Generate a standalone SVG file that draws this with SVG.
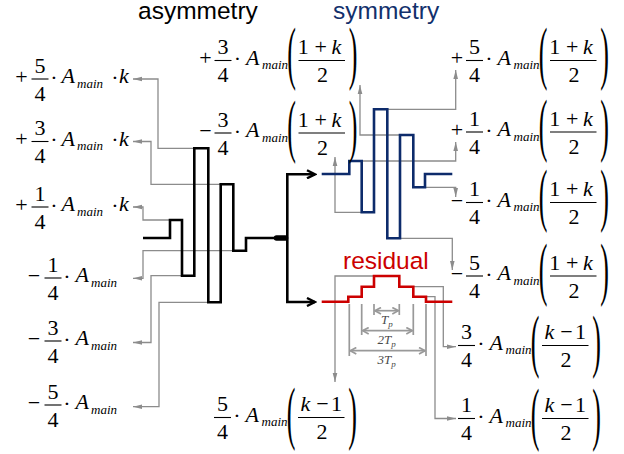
<svg xmlns="http://www.w3.org/2000/svg" width="624" height="454" viewBox="0 0 624 454">
<defs>
<marker id="ga" viewBox="0 0 9 6" refX="9" refY="3" markerWidth="9" markerHeight="6" markerUnits="userSpaceOnUse" orient="auto"><path d="M0,0.7 L9,3 L0,5.3 z" fill="#8c8c8c"/></marker>
<marker id="ba" viewBox="0 0 12 10" refX="10" refY="5" markerWidth="12" markerHeight="10" markerUnits="userSpaceOnUse" orient="auto"><path d="M2,1 L10,5 L2,9" fill="none" stroke="#000" stroke-width="2.4"/></marker>
<marker id="da" viewBox="0 0 8 8" refX="7" refY="4" markerWidth="8" markerHeight="8" markerUnits="userSpaceOnUse" orient="auto-start-reverse"><path d="M1,0.8 L7,4 L1,7.2" fill="none" stroke="#999" stroke-width="1.7"/></marker>
<style>
.c{fill:none;stroke:#8c8c8c;stroke-width:1.3;marker-end:url(#ga)}
.w{fill:none;stroke-width:2.6}
.m,.i,.s,.p,.dl{font-family:"Liberation Serif","Times New Roman",serif}
.m{font-size:22px;fill:#000}
.i{font-size:22px;font-style:italic;fill:#000}
.s{font-size:13px;font-style:italic;fill:#000}
.p{font-size:26px;fill:#000}
.ml{text-anchor:middle}
.fb{stroke:#000;stroke-width:1.1}
.t{font-family:"Liberation Sans",Arial,sans-serif;font-size:24.5px}
.dim{fill:none;stroke:#999;stroke-width:1.7}
.dl{font-style:italic;font-size:13px;fill:#4a4a4a}
</style>
</defs>
<rect width="624" height="454" fill="#fff"/>

<g id="titles">
<text class="t" x="138" y="18.5" fill="#000">asymmetry</text>
<text class="t" x="333" y="18.5" fill="#12306c">symmetry</text>
<text class="t" x="343" y="269" fill="#cc0000">residual</text>
</g>

<g id="connectors">
<path class="c" d="M194.3,148.3 H158 V79 H133"/>
<path class="c" d="M220.7,184.3 H151 V141.5 H133"/>
<path class="c" d="M170,220 H143 V207 H133"/>
<path class="c" d="M246,250.7 H143 V278.3 H133"/>
<path class="c" d="M182,275.7 H151 V342.5 H133"/>
<path class="c" d="M208.3,302.3 H159 V406.7 H133"/>
<path class="c" d="M400,135 H360 V85"/>
<path class="c" d="M387.3,109.3 H455.7 V70"/>
<path class="c" d="M361.7,161 H455.7 V142"/>
<path class="c" d="M413.3,187.3 H455.7 V197"/>
<path class="c" d="M400,238.3 H452.3 V270"/>
<path class="c" d="M361.7,212.3 H335 V157"/>
<path class="c" d="M374,276 H335 V382"/>
<path class="c" d="M413.3,286.7 H443.3 V346.7 H456"/>
<path class="c" d="M426,296.7 H435 V418.5 H456"/>
<path class="w" stroke="#000" d="M287.3,238 V174.3 H315" marker-end="url(#ba)"/>
<path class="w" stroke="#000" d="M287.3,238 V302 H315" marker-end="url(#ba)"/>
</g>

<g id="wave-asym">
<path class="w" stroke="#000" d="M143,238 H170 V220 H182 V275.7 H194.3 V148.3 H208.3 V302.3 H220.7 V184.3 H233.3 V250.7 H246 V238 H276"/>
<line x1="276.5" y1="238" x2="285.5" y2="238" stroke="#000" stroke-width="5.5" stroke-linecap="round"/>
</g>

<g id="wave-sym">
<path class="w" stroke="#0d2b6b" d="M321.7,174 H349.3 V161 H361.7 V212.3 H374 V109.3 H387.3 V238.3 H400 V135 H413.3 V187.3 H425 V174 H452.3"/>
</g>

<g id="wave-res">
<path class="w" stroke="#cc0000" d="M321.7,301.7 H348.3 V296.7 H361.7 V286.7 H374 V276 H399.3 V286.7 H413.3 V296.7 H426 V301.7 H452.3"/>
</g>

<g id="dimensions">
<path class="dim" d="M374,304 V315 M399.3,304 V315 M361.7,304 V335 M413.3,304 V335 M349.3,304 V356 M426,304 V356"/>
<line class="dim" x1="375" y1="310.7" x2="398.3" y2="310.7" marker-start="url(#da)" marker-end="url(#da)"/>
<line class="dim" x1="362.7" y1="330.7" x2="412.3" y2="330.7" marker-start="url(#da)" marker-end="url(#da)"/>
<line class="dim" x1="350.3" y1="350.7" x2="425" y2="350.7" marker-start="url(#da)" marker-end="url(#da)"/>
<text class="dl" x="381" y="323.5">T<tspan font-size="9" dy="3">p</tspan></text>
<text class="dl" x="377.5" y="343.5">2T<tspan font-size="9" dy="3">p</tspan></text>
<text class="dl" x="377.5" y="364">3T<tspan font-size="9" dy="3">p</tspan></text>
</g>

<!-- left column -->
<g id="lbl-a1">
<text class="m ml" x="21.5" y="83.5">+</text>
<text class="m ml" x="40" y="72.5">5</text>
<line class="fb" x1="31.5" y1="79" x2="48.5" y2="79"/>
<text class="m ml" x="40" y="100.5">4</text>
<text class="m ml" x="54" y="84.5">·</text>
<text class="i" x="61.5" y="83">A</text>
<text class="s" x="77" y="87.5">main</text>
<text class="m ml" x="115" y="84.5">·</text>
<text class="i" x="119" y="83">k</text>
</g>
<g id="lbl-a2">
<text class="m ml" x="21.5" y="146">+</text>
<text class="m ml" x="40" y="135">3</text>
<line class="fb" x1="31.5" y1="141.5" x2="48.5" y2="141.5"/>
<text class="m ml" x="40" y="163">4</text>
<text class="m ml" x="54" y="147">·</text>
<text class="i" x="61.5" y="145.5">A</text>
<text class="s" x="77" y="150">main</text>
<text class="m ml" x="115" y="147">·</text>
<text class="i" x="119" y="145.5">k</text>
</g>
<g id="lbl-a3">
<text class="m ml" x="21.5" y="211.5">+</text>
<text class="m ml" x="40" y="200.5">1</text>
<line class="fb" x1="31.5" y1="207" x2="48.5" y2="207"/>
<text class="m ml" x="40" y="228.5">4</text>
<text class="m ml" x="54" y="212.5">·</text>
<text class="i" x="61.5" y="211">A</text>
<text class="s" x="77" y="215.5">main</text>
<text class="m ml" x="115" y="212.5">·</text>
<text class="i" x="119" y="211">k</text>
</g>
<g id="lbl-a4">
<text class="m ml" x="34" y="283">−</text>
<text class="m ml" x="53" y="271.5">1</text>
<line class="fb" x1="44.5" y1="278" x2="61.5" y2="278"/>
<text class="m ml" x="53" y="299.5">4</text>
<text class="m ml" x="67" y="283.5">·</text>
<text class="i" x="75.5" y="282">A</text>
<text class="s" x="91" y="286.5">main</text>
</g>
<g id="lbl-a5">
<text class="m ml" x="34" y="346">−</text>
<text class="m ml" x="53" y="334.5">3</text>
<line class="fb" x1="44.5" y1="341" x2="61.5" y2="341"/>
<text class="m ml" x="53" y="362.5">4</text>
<text class="m ml" x="67" y="346.5">·</text>
<text class="i" x="75.5" y="345">A</text>
<text class="s" x="91" y="349.5">main</text>
</g>
<g id="lbl-a6">
<text class="m ml" x="34" y="410">−</text>
<text class="m ml" x="53" y="398.5">5</text>
<line class="fb" x1="44.5" y1="405" x2="61.5" y2="405"/>
<text class="m ml" x="53" y="426.5">4</text>
<text class="m ml" x="67" y="410.5">·</text>
<text class="i" x="75.5" y="409">A</text>
<text class="s" x="91" y="413.5">main</text>
</g>

<!-- middle top -->
<g id="lbl-s1">
<text class="m ml" x="205.5" y="65">+</text>
<text class="m ml" x="223" y="54">3</text>
<line class="fb" x1="214.5" y1="60.5" x2="231.5" y2="60.5"/>
<text class="m ml" x="223" y="82">4</text>
<text class="m ml" x="237.5" y="66">·</text>
<text class="i" x="246" y="64.5">A</text>
<text class="s" x="262" y="69">main</text>
<text class="p" transform="translate(287.3,76) scale(1,2.705)">(</text>
<line class="fb" x1="298.5" y1="60.5" x2="345" y2="60.5"/>
<text class="m" x="297.8" y="54">1</text>
<text class="m ml" x="320.8" y="54">+</text>
<text class="i" x="331.5" y="54">k</text>
<text class="m ml" x="322.5" y="82">2</text>
<text class="p" transform="translate(348.7,76) scale(1,2.705)">)</text>
</g>
<g id="lbl-s2">
<text class="m ml" x="205.5" y="138">−</text>
<text class="m ml" x="223" y="126.5">3</text>
<line class="fb" x1="214.5" y1="133" x2="231.5" y2="133"/>
<text class="m ml" x="223" y="154.5">4</text>
<text class="m ml" x="237.5" y="138.5">·</text>
<text class="i" x="246" y="137">A</text>
<text class="s" x="262" y="141.5">main</text>
<text class="p" transform="translate(287.3,148.5) scale(1,2.705)">(</text>
<line class="fb" x1="298.5" y1="133" x2="345" y2="133"/>
<text class="m" x="297.8" y="126.5">1</text>
<text class="m ml" x="320.8" y="126.5">+</text>
<text class="i" x="331.5" y="126.5">k</text>
<text class="m ml" x="322.5" y="154.5">2</text>
<text class="p" transform="translate(348.7,148.5) scale(1,2.705)">)</text>
</g>

<!-- right column -->
<g id="lbl-s3">
<text class="m ml" x="457" y="65">+</text>
<text class="m ml" x="474.5" y="54">5</text>
<line class="fb" x1="466" y1="60.5" x2="483" y2="60.5"/>
<text class="m ml" x="474.5" y="82">4</text>
<text class="m ml" x="489" y="66">·</text>
<text class="i" x="497.5" y="64.5">A</text>
<text class="s" x="513.5" y="69">main</text>
<text class="p" transform="translate(538.8,76) scale(1,2.705)">(</text>
<line class="fb" x1="550" y1="60.5" x2="596.5" y2="60.5"/>
<text class="m" x="549.3" y="54">1</text>
<text class="m ml" x="572.3" y="54">+</text>
<text class="i" x="583" y="54">k</text>
<text class="m ml" x="574" y="82">2</text>
<text class="p" transform="translate(600.2,76) scale(1,2.705)">)</text>
</g>
<g id="lbl-s4">
<text class="m ml" x="457" y="136.5">+</text>
<text class="m ml" x="474.5" y="125.5">1</text>
<line class="fb" x1="466" y1="132" x2="483" y2="132"/>
<text class="m ml" x="474.5" y="153.5">4</text>
<text class="m ml" x="489" y="137.5">·</text>
<text class="i" x="497.5" y="136">A</text>
<text class="s" x="513.5" y="140.5">main</text>
<text class="p" transform="translate(538.8,147.5) scale(1,2.705)">(</text>
<line class="fb" x1="550" y1="132" x2="596.5" y2="132"/>
<text class="m" x="549.3" y="125.5">1</text>
<text class="m ml" x="572.3" y="125.5">+</text>
<text class="i" x="583" y="125.5">k</text>
<text class="m ml" x="574" y="153.5">2</text>
<text class="p" transform="translate(600.2,147.5) scale(1,2.705)">)</text>
</g>
<g id="lbl-s5">
<text class="m ml" x="457" y="207.5">−</text>
<text class="m ml" x="474.5" y="196">1</text>
<line class="fb" x1="466" y1="202.5" x2="483" y2="202.5"/>
<text class="m ml" x="474.5" y="224">4</text>
<text class="m ml" x="489" y="208">·</text>
<text class="i" x="497.5" y="206.5">A</text>
<text class="s" x="513.5" y="211">main</text>
<text class="p" transform="translate(538.8,218) scale(1,2.705)">(</text>
<line class="fb" x1="550" y1="202.5" x2="596.5" y2="202.5"/>
<text class="m" x="549.3" y="196">1</text>
<text class="m ml" x="572.3" y="196">+</text>
<text class="i" x="583" y="196">k</text>
<text class="m ml" x="574" y="224">2</text>
<text class="p" transform="translate(600.2,218) scale(1,2.705)">)</text>
</g>
<g id="lbl-s6">
<text class="m ml" x="457" y="281">−</text>
<text class="m ml" x="474.5" y="269.5">5</text>
<line class="fb" x1="466" y1="276" x2="483" y2="276"/>
<text class="m ml" x="474.5" y="297.5">4</text>
<text class="m ml" x="489" y="281.5">·</text>
<text class="i" x="497.5" y="280">A</text>
<text class="s" x="513.5" y="284.5">main</text>
<text class="p" transform="translate(538.8,291.5) scale(1,2.705)">(</text>
<line class="fb" x1="550" y1="276" x2="596.5" y2="276"/>
<text class="m" x="549.3" y="269.5">1</text>
<text class="m ml" x="572.3" y="269.5">+</text>
<text class="i" x="583" y="269.5">k</text>
<text class="m ml" x="574" y="297.5">2</text>
<text class="p" transform="translate(600.2,291.5) scale(1,2.705)">)</text>
</g>

<!-- residual labels -->
<g id="lbl-r1">
<text class="m ml" x="222.5" y="411">5</text>
<line class="fb" x1="214" y1="417.5" x2="231" y2="417.5"/>
<text class="m ml" x="222.5" y="439">4</text>
<text class="m ml" x="237" y="423">·</text>
<text class="i" x="245.5" y="421.5">A</text>
<text class="s" x="261.5" y="426">main</text>
<text class="p" transform="translate(286.8,436) scale(1,2.705)">(</text>
<line class="fb" x1="298" y1="417.5" x2="344.5" y2="417.5"/>
<text class="i" x="300.5" y="411">k</text>
<text class="m ml" x="322.5" y="411">−</text>
<text class="m" x="331" y="411">1</text>
<text class="m ml" x="322" y="439">2</text>
<text class="p" transform="translate(348.2,436) scale(1,2.705)">)</text>
</g>
<g id="lbl-r2">
<text class="m ml" x="466.5" y="339">3</text>
<line class="fb" x1="458" y1="345.5" x2="475" y2="345.5"/>
<text class="m ml" x="466.5" y="367">4</text>
<text class="m ml" x="481" y="351">·</text>
<text class="i" x="489.5" y="349.5">A</text>
<text class="s" x="505.5" y="354">main</text>
<text class="p" transform="translate(530.8,364) scale(1,2.705)">(</text>
<line class="fb" x1="542" y1="345.5" x2="588.5" y2="345.5"/>
<text class="i" x="544.5" y="339">k</text>
<text class="m ml" x="566.5" y="339">−</text>
<text class="m" x="575" y="339">1</text>
<text class="m ml" x="566" y="367">2</text>
<text class="p" transform="translate(592.2,364) scale(1,2.705)">)</text>
</g>
<g id="lbl-r3">
<text class="m ml" x="466.5" y="412">1</text>
<line class="fb" x1="458" y1="418.5" x2="475" y2="418.5"/>
<text class="m ml" x="466.5" y="440">4</text>
<text class="m ml" x="481" y="424">·</text>
<text class="i" x="489.5" y="422.5">A</text>
<text class="s" x="505.5" y="427">main</text>
<text class="p" transform="translate(530.8,437) scale(1,2.705)">(</text>
<line class="fb" x1="542" y1="418.5" x2="588.5" y2="418.5"/>
<text class="i" x="544.5" y="412">k</text>
<text class="m ml" x="566.5" y="412">−</text>
<text class="m" x="575" y="412">1</text>
<text class="m ml" x="566" y="440">2</text>
<text class="p" transform="translate(592.2,437) scale(1,2.705)">)</text>
</g>
</svg>
